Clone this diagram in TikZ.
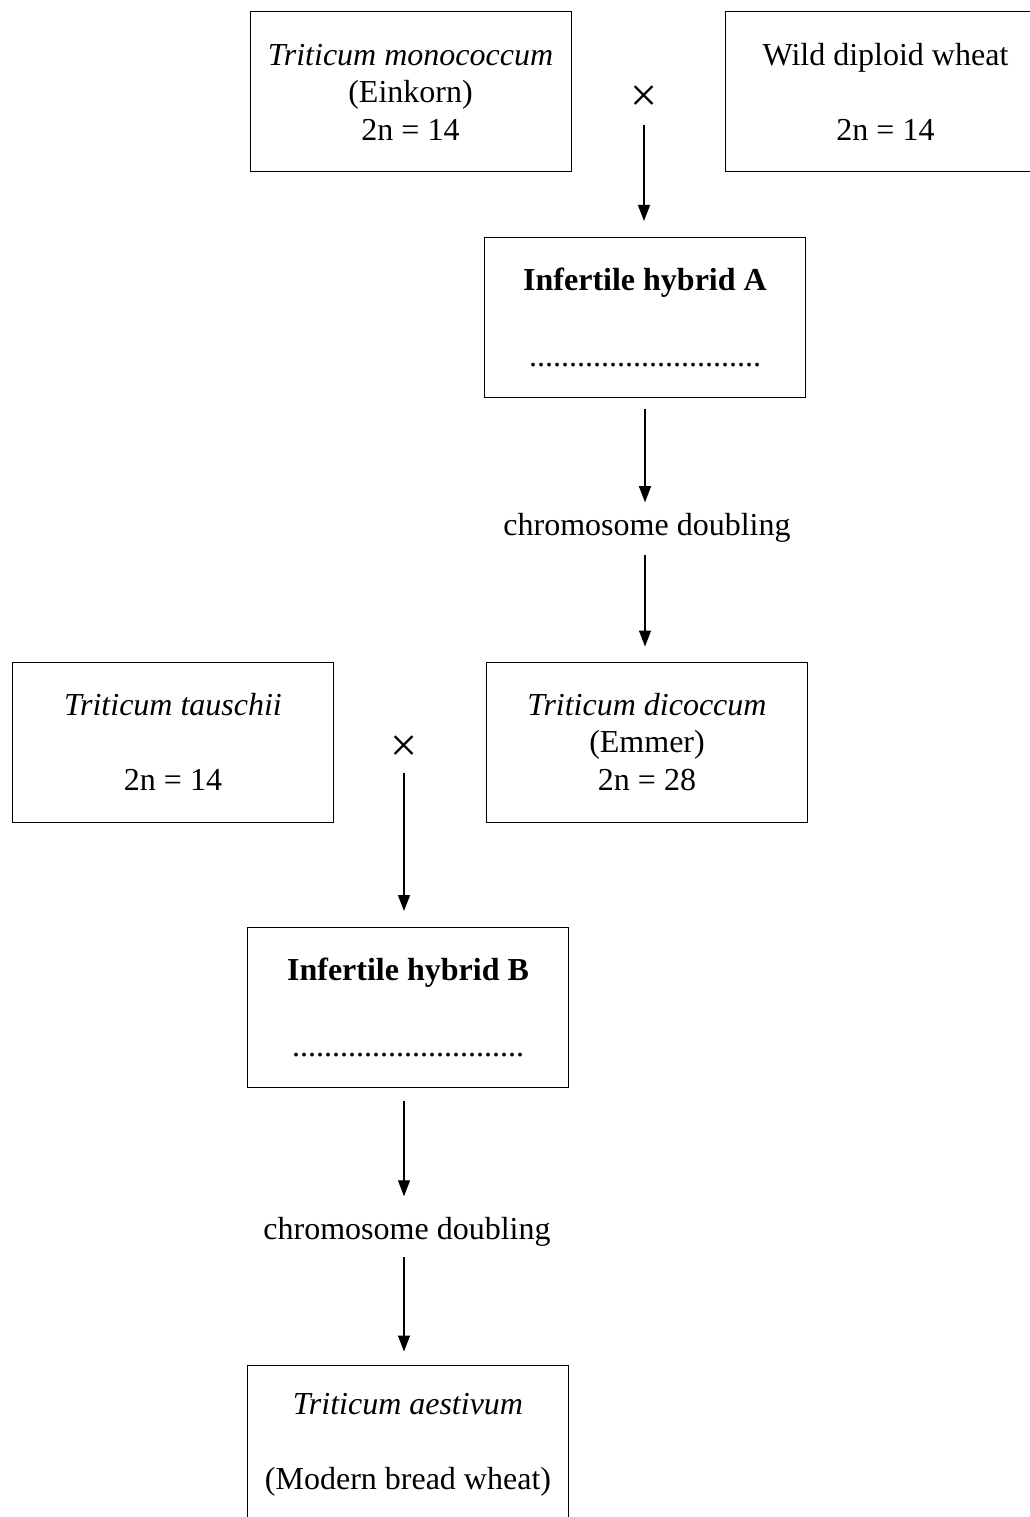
\documentclass[tikz,border=0pt]{standalone}
\usepackage{fontspec}
\setmainfont{Liberation Serif}
\usetikzlibrary{arrows.meta}
\tikzset{
  box/.style={draw, line width=1pt, minimum width=321pt, minimum height=160pt, inner sep=0pt, align=center, font=\fontsize{32}{37.5}\selectfont},
  lbl/.style={inner sep=0pt, font=\fontsize{32}{37.5}\selectfont},
  crosslbl/.style={inner sep=0pt, font=\fontsize{48}{48}\selectfont},
  arr/.style={line width=1.1pt, -{Triangle[length=16pt,width=12pt]}}
}
\begin{document}
\begin{tikzpicture}[x=1pt,y=-1pt]
\useasboundingbox (0,0) rectangle (1030,1517);
\clip (0,0) rectangle (1030,1517);
\node[box] (mono) at (410.5,92) {\textit{Triticum monococcum}\\(Einkorn)\\2n = 14};
\node[box] (wild) at (885.5,92) {Wild diploid wheat\\[37.5pt]2n = 14};
\node[crosslbl] (cross1) at (644,99) {×};
\node[box] (hybA) at (645,317.5) {\textbf{Infertile hybrid A}\\[38.5pt].............................};
\node[lbl] (cd1) at (647,528) {chromosome doubling};
\node[box] (tau) at (173,742) {\textit{Triticum tauschii}\\[37.5pt]2n = 14};
\node[box] (dic) at (647,742) {\textit{Triticum dicoccum}\\(Emmer)\\2n = 28};
\node[crosslbl] (cross2) at (404,749) {×};
\node[box] (hybB) at (408,1007.5) {\textbf{Infertile hybrid B}\\[38.5pt].............................};
\node[lbl] (cd2) at (407,1232) {chromosome doubling};
\node[box] (aest) at (408,1445) {\textit{Triticum aestivum}\\[37.5pt](Modern bread wheat)};
\draw[arr, shorten <=13pt, shorten >=16pt] (cross1.south) -- (cross1 |- hybA.north);
\draw[arr, shorten <=11pt, shorten >=11pt] (hybA.south) -- (hybA.south |- cd1.north);
\draw[arr, shorten <=12pt, shorten >=15pt] (hybA.south |- cd1.south) -- (hybA.south |- dic.north);
\draw[arr, shorten <=11pt, shorten >=16pt] (cross2.south) -- (cross2 |- hybB.north);
\draw[arr, shorten <=13pt, shorten >=21pt] (cross2 |- hybB.south) -- (cross2 |- cd2.north);
\draw[arr, shorten <=10pt, shorten >=13pt] (cross2 |- cd2.south) -- (cross2 |- aest.north);
\end{tikzpicture}
\end{document}
